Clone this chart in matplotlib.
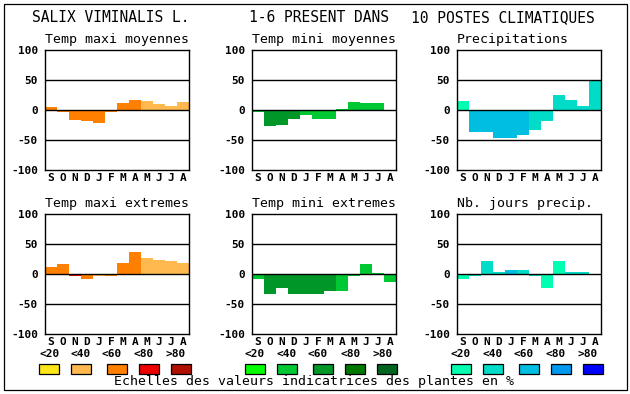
import matplotlib
matplotlib.use("Agg")
import matplotlib.pyplot as plt
from matplotlib.patches import Rectangle

W, H = 630, 394
FONT = "DejaVu Sans Mono"

MONTHS = ["S", "O", "N", "D", "J", "F", "M", "A", "M", "J", "J", "A"]
Y_TICKS = [-100, -50, 0, 50, 100]
SCALE_LABELS = ["<20", "<40", "<60", "<80", ">80"]

# values (% deviation) and colour class (0: <20 ... 4: >80) per month
TMAX_MOY = [5, -4, -17, -18, -21, -3, 12, 17, 15, 10, 7, 13]
TMAX_MOY_CLS = [2, 2, 2, 2, 2, 2, 2, 2, 1, 1, 1, 1]
TMIN_MOY = [-4, -26, -25, -15, -8, -15, -15, 2, 13, 12, 12, 0]
TMIN_MOY_CLS = [1, 2, 2, 2, 1, 1, 1, 1, 1, 1, 1, 1]
PRECIP = [15, -37, -37, -47, -47, -42, -33, -18, 25, 17, 7, 49]
PRECIP_CLS = [0, 2, 2, 2, 2, 2, 1, 1, 1, 1, 1, 1]
TMAX_EXT = [11, 16, -4, -8, -3, -4, 18, 37, 27, 24, 21, 18]
TMAX_EXT_CLS = [2, 2, 3, 2, 1, 2, 2, 2, 1, 1, 1, 1]
TMIN_EXT = [-8, -34, -23, -33, -33, -34, -28, -28, -3, 16, 2, -13]
TMIN_EXT_CLS = [1, 2, 2, 2, 2, 2, 2, 1, 1, 1, 1, 1]
JOURS_PRECIP = [-8, -3, 22, 4, 7, 7, -4, -24, 21, 4, 4, 0]
JOURS_PRECIP_CLS = [0, 1, 1, 1, 2, 1, 1, 0, 0, 1, 1, 1]

ORANGES = ["#ffe619", "#ffb94f", "#ff8000", "#ee0000", "#b01000"]
GREENS = ["#00ff00", "#00c832", "#009628", "#007800", "#006420"]
BLUES = ["#00ffb0", "#00dcc8", "#00bee0", "#0099ee", "#0000ff"]

COL_LEFT = [45, 252, 457]
ROW_TOP = [50, 214]
AX_W, AX_H = 144, 120


def fx(px):
    return px / W


def fy(py):
    return 1 - py / H


def draw_panel(fig, title, values, classes, palette, left, top):
    ax = fig.add_axes([fx(left), fy(top + AX_H), AX_W / W, AX_H / H])
    xs = list(range(len(values)))
    ax.bar(xs, values, width=1.0, align="edge",
           color=[palette[c] for c in classes], linewidth=0, zorder=2)
    for y in (-50, 0, 50):
        ax.axhline(y, color="black", linewidth=1.0, zorder=3)
    ax.set_xlim(0, len(values))
    ax.set_ylim(-100, 100)
    ax.set_yticks(Y_TICKS)
    ax.set_yticklabels([str(v) for v in Y_TICKS], fontfamily=FONT,
                       fontsize=8, fontweight="bold")
    ax.set_xticks([x + 0.5 for x in xs])
    ax.set_xticklabels(MONTHS, fontfamily=FONT, fontsize=8, fontweight="bold")
    ax.tick_params(axis="y", length=0, pad=5)
    ax.tick_params(axis="x", length=0, pad=2)
    for sp in ax.spines.values():
        sp.set_linewidth(1.0)
        sp.set_zorder(4)
    fig.text(fx(left), fy(top - 11), title, fontfamily=FONT, fontsize=9.5,
             ha="left", va="center")


def main():
    fig = plt.figure(figsize=(W / 100, H / 100), dpi=100)

    fig.patches.append(Rectangle((fx(4), fy(390)), (627 - 4) / W, (390 - 4) / H,
                                 transform=fig.transFigure, fill=False,
                                 edgecolor="black", linewidth=0.9))

    fig.text(fx(111), fy(18), "SALIX VIMINALIS L.", fontfamily=FONT,
             fontsize=10.5, ha="center", va="center")
    fig.text(fx(319), fy(18), "1-6 PRESENT DANS", fontfamily=FONT,
             fontsize=10.5, ha="center", va="center")
    fig.text(fx(503), fy(18), "10 POSTES CLIMATIQUES", fontfamily=FONT,
             fontsize=10.5, ha="center", va="center")

    panels = [
        ("Temp maxi moyennes", TMAX_MOY, TMAX_MOY_CLS, ORANGES, 0, 0),
        ("Temp mini moyennes", TMIN_MOY, TMIN_MOY_CLS, GREENS, 1, 0),
        ("Precipitations", PRECIP, PRECIP_CLS, BLUES, 2, 0),
        ("Temp maxi extremes", TMAX_EXT, TMAX_EXT_CLS, ORANGES, 0, 1),
        ("Temp mini extremes", TMIN_EXT, TMIN_EXT_CLS, GREENS, 1, 1),
        ("Nb. jours precip.", JOURS_PRECIP, JOURS_PRECIP_CLS, BLUES, 2, 1),
    ]
    for title, vals, cls, pal, col, row in panels:
        draw_panel(fig, title, vals, cls, pal, COL_LEFT[col], ROW_TOP[row])

    # colour scales
    label_x = [[50, 81, 112, 144, 176], [255, 287, 318, 351, 383], [461, 493, 524, 556, 588]]
    rect_x = [[39, 71, 107, 139, 171], [245, 277, 313, 345, 377], [451, 483, 519, 551, 583]]
    for pal, lxs, rxs in zip([ORANGES, GREENS, BLUES], label_x, rect_x):
        for lab, lx, rx, c in zip(SCALE_LABELS, lxs, rxs, pal):
            fig.text(fx(lx), fy(354), lab, fontfamily=FONT, fontsize=8,
                     fontweight="bold", ha="center", va="center")
            fig.patches.append(Rectangle((fx(rx), fy(374)), 20 / W, 10 / H,
                                         transform=fig.transFigure, facecolor=c,
                                         edgecolor="black", linewidth=0.9))

    fig.text(fx(314), fy(382), "Echelles des valeurs indicatrices des plantes en %",
             fontfamily=FONT, fontsize=9.5, ha="center", va="center")

    fig.savefig("out.png", dpi=100)


if __name__ == "__main__":
    main()
